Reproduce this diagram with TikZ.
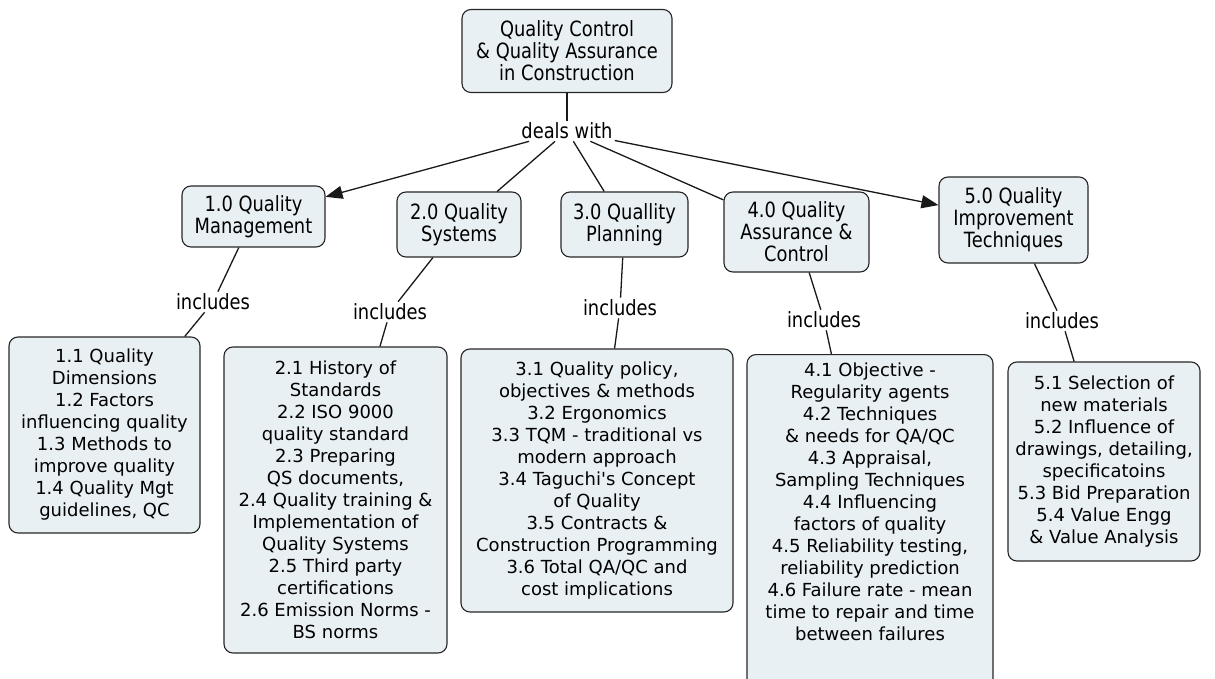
\documentclass[tikz,border=0pt]{standalone}
\usepackage{fontspec}
\usetikzlibrary{arrows.meta}
\setmainfont{DejaVu Sans}
\newfontfamily\narrowface[FakeStretch=0.85]{DejaVu Sans}
\definecolor{conceptfill}{RGB}{233,240,243}
\newcommand{\conceptfont}{\narrowface\fontsize{21pt}{22pt}\selectfont}
\newcommand{\detailfont}{\fontsize{18pt}{22pt}\selectfont}

\tikzset{
	concept/.style={draw=black!85, fill=conceptfill, line width=1.1pt, rounded corners=9pt, align=center, inner sep=3pt},
	topic/.style={concept, font=\conceptfont},
	itemlist/.style={concept, font=\detailfont},
	linkword/.style={font=\conceptfont, inner sep=2pt},
	link/.style={draw=black!90, line width=1.3pt},
	linkto/.style={link, -{Triangle[length=17pt,width=13pt]}},
}

\begin{document}
\begin{tikzpicture}[x=1pt, y=-1pt]
		\fill[white] (0,0) rectangle (1215,679);
		\useasboundingbox (0,0) rectangle (1215,679);
		
		\node[topic, minimum width=210pt, minimum height=83pt] (qcqa) at (567,51) {Quality Control\\ \& Quality Assurance\\ in Construction};
		\node[linkword] (dealswith) at (567,131) {deals with};
		
		\node[topic, minimum width=143pt, minimum height=61pt] (qm) at (253.5,216.5) {1.0 Quality\\ Management};
		\node[topic, minimum width=124pt, minimum height=65pt] (qs) at (459,224.5) {2.0 Quality\\ Systems};
		\node[topic, minimum width=127pt, minimum height=65pt] (qp) at (624.5,224.5) {3.0 Quallity\\ Planning};
		\node[topic, minimum width=145pt, minimum height=80pt] (qa) at (796.5,232) {4.0 Quality\\ Assurance \&\\ Control};
		\node[topic, minimum width=149pt, minimum height=86pt] (qi) at (1013.5,220) {5.0 Quality\\ Improvement\\ Techniques};
		
		\node[linkword] (incqm) at (213,302) {includes};
		\node[linkword] (incqs) at (390,312) {includes};
		\node[linkword] (incqp) at (620,308) {includes};
		\node[linkword] (incqa) at (824,320) {includes};
		\node[linkword] (incqi) at (1062,321) {includes};
		
		\node[itemlist, minimum width=191pt, minimum height=196pt] (qmitems) at (104.5,435) {1.1 Quality\\ Dimensions\\ 1.2 Factors\\ influencing quality\\ 1.3 Methods to\\ improve quality\\ 1.4 Quality Mgt\\ guidelines, QC};
		\node[itemlist, minimum width=223pt, minimum height=306pt] (qsitems) at (335.5,500) {2.1 History of\\ Standards\\ 2.2 ISO 9000\\ quality standard\\ 2.3 Preparing\\ QS documents,\\ 2.4 Quality training \&\\ Implementation of\\ Quality Systems\\ 2.5 Third party\\ certifications\\ 2.6 Emission Norms -\\ BS norms};
		\node[itemlist, minimum width=272pt, minimum height=263pt] (qpitems) at (597,480.5) {3.1 Quality policy,\\ objectives \& methods\\ 3.2 Ergonomics\\ 3.3 TQM - traditional vs\\ modern approach\\ 3.4 Taguchi{\textquotesingle}s Concept\\ of Quality\\ 3.5 Contracts \&\\ Construction Programming\\ 3.6 Total QA/QC and\\ cost implications};
		\node[itemlist, minimum width=246pt, anchor=north, inner sep=8pt, text depth=60pt] (qaitems) at (870,354) {4.1 Objective -\\ Regularity agents\\ 4.2 Techniques\\ \& needs for QA/QC\\ 4.3 Appraisal,\\ Sampling Techniques\\ 4.4 Influencing\\ factors of quality\\ 4.5 Reliability testing,\\ reliability prediction\\ 4.6 Failure rate - mean\\ time to repair and time\\ between failures};
		\node[itemlist, minimum width=192pt, minimum height=199pt] (qiitems) at (1104,461.5) {5.1 Selection of\\ new materials\\ 5.2 Influence of\\ drawings, detailing,\\ specificatoins\\ 5.3 Bid Preparation\\ 5.4 Value Engg\\ \& Value Analysis};
		
		\draw[link] (qcqa) -- (dealswith);
		\draw[linkto] (dealswith) -- (qm);
		\draw[link] (dealswith) -- (qs);
		\draw[link] (dealswith) -- (qp);
		\draw[link] (dealswith) -- (qa);
		\draw[linkto] (dealswith) -- (qi);
		
		\draw[link] (qm) -- (incqm);
		\draw[link] (incqm) -- (qmitems);
		\draw[link] (qs) -- (incqs);
		\draw[link] (incqs) -- (qsitems);
		\draw[link] (qp) -- (incqp);
		\draw[link] (incqp) -- (qpitems);
		\draw[link] (qa) -- (incqa);
		\draw[link] (incqa) -- (qaitems);
		\draw[link] (qi) -- (incqi);
		\draw[link] (incqi) -- (qiitems);
		
\end{tikzpicture}
\end{document}
